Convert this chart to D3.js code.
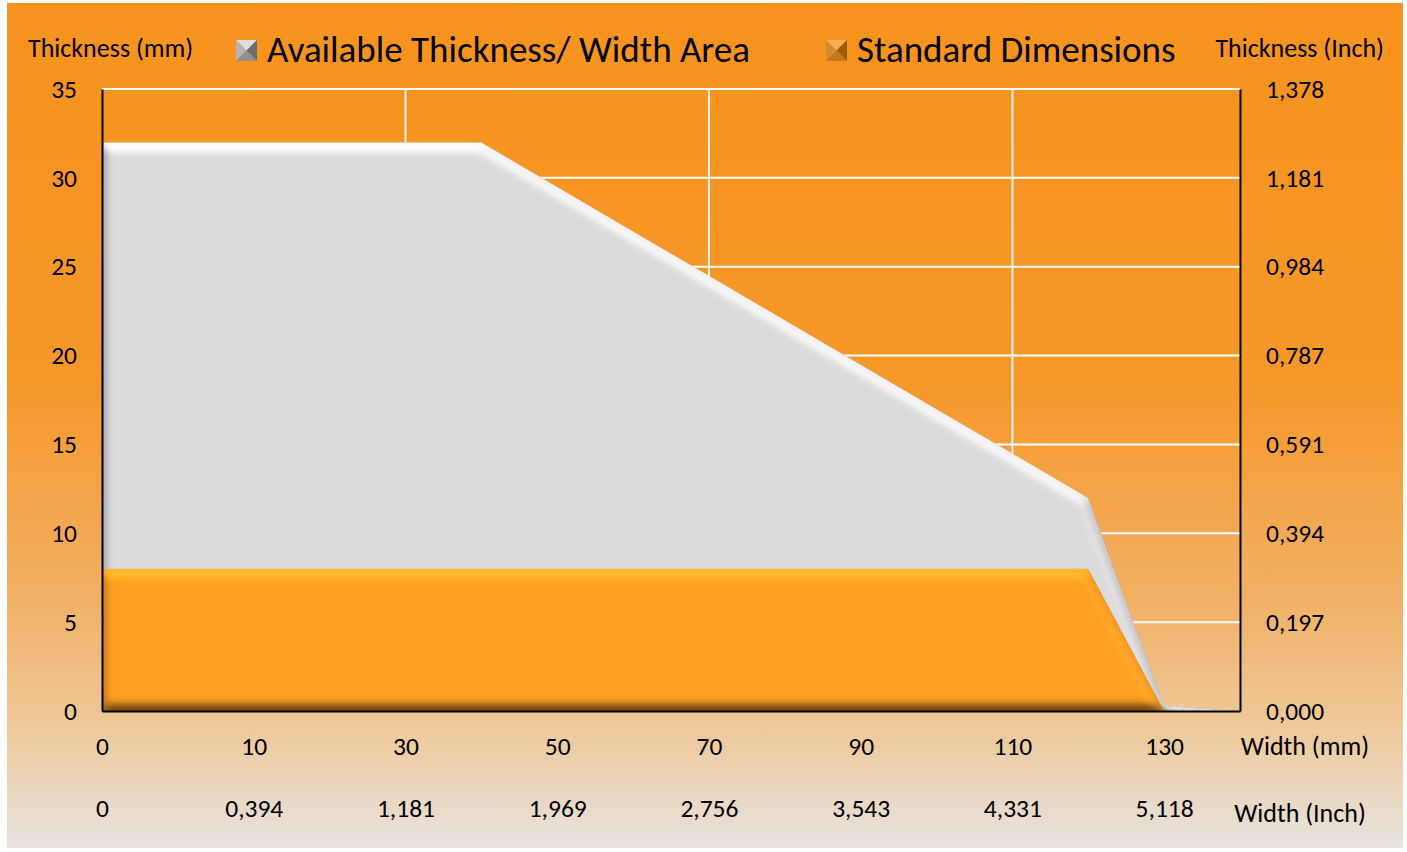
<!DOCTYPE html>
<html>
<head>
<meta charset="utf-8">
<script src="https://cdn.jsdelivr.net/npm/d3@7"></script>
<style>
  body { margin: 0; background: #fff; }
  text { font-family: Carlito, Lato, sans-serif; fill: #000; }
</style>
</head>
<body>
<svg id="chart" width="1407" height="852"></svg>
<script>
// categories along the width axis (mm); only every second one gets a label
const widthMm = ['0', '5', '10', '20', '30', '40', '50', '60', '70', '80', '90', '100', '110', '120', '130', '140'];
const mmLabels = ['0', '10', '30', '50', '70', '90', '110', '130'];
const inchLabels = ['0', '0,394', '1,181', '1,969', '2,756', '3,543', '4,331', '5,118'];
const gridCats = ['30', '70', '110'];

// thickness in mm
const available = [32, 32, 32, 32, 32, 32, 29.5, 27, 24.5, 22, 19.5, 17, 14.5, 12, 0.3, 0];
const standard = [8, 8, 8, 8, 8, 8, 8, 8, 8, 8, 8, 8, 8, 8, 0, 0];

const mmTicks = [0, 5, 10, 15, 20, 25, 30, 35];

const svg = d3.select('#chart');
const plot = { left: 102, right: 1240, top: 89, bottom: 711 };

const x = d3.scalePoint().domain(widthMm).range([plot.left, plot.right]);
const y = d3.scaleLinear().domain([0, 35]).range([plot.bottom, plot.top]);
const yInch = d3.scaleLinear().domain([0, 35 / 25.4]).range([plot.bottom, plot.top]);

const defs = svg.append('defs');

const bg = defs.append('linearGradient').attr('id', 'bg')
    .attr('x1', 0).attr('y1', 0).attr('x2', 0).attr('y2', 1);
[[0, '#f7931e'], [0.45, '#f6982a'], [0.7, '#f1b064'], [0.87, '#eecb9f'], [1, '#e6e3e1']]
    .forEach(([o, c]) => bg.append('stop').attr('offset', o).attr('stop-color', c));

// rough bevel: light from above on a blurred alpha, multiplied into the fill
const elev = 55;
const L0 = Math.sin(elev * Math.PI / 180);
const bevel = defs.append('filter').attr('id', 'bevel')
    .attr('filterUnits', 'userSpaceOnUse')
    .attr('x', 80).attr('y', 70).attr('width', 1200).attr('height', 660)
    .attr('color-interpolation-filters', 'sRGB');
bevel.append('feGaussianBlur').attr('in', 'SourceAlpha').attr('stdDeviation', 6).attr('result', 'blur');
bevel.append('feDiffuseLighting').attr('in', 'blur').attr('surfaceScale', 7)
    .attr('diffuseConstant', 1).attr('lighting-color', '#fff').attr('result', 'light')
    .append('feDistantLight').attr('azimuth', 270).attr('elevation', elev);
bevel.append('feComposite').attr('in', 'light').attr('in2', 'SourceAlpha')
    .attr('operator', 'in').attr('result', 'lit');
bevel.append('feComposite').attr('in', 'SourceGraphic').attr('in2', 'lit')
    .attr('operator', 'arithmetic')
    .attr('k1', 0.7 / L0).attr('k2', 0.3).attr('k3', 0).attr('k4', 0);

svg.append('rect')
    .attr('x', 7).attr('y', 3).attr('width', 1396).attr('height', 845)
    .attr('fill', 'url(#bg)');

// gridlines
svg.append('g')
    .selectAll('line')
    .data(mmTicks.slice(1))
    .join('line')
    .attr('x1', plot.left).attr('x2', plot.right)
    .attr('y1', d => y(d)).attr('y2', d => y(d))
    .attr('stroke', '#fff').attr('stroke-width', 2);

svg.append('g')
    .selectAll('line')
    .data(gridCats)
    .join('line')
    .attr('x1', d => x(d)).attr('x2', d => x(d))
    .attr('y1', plot.top).attr('y2', plot.bottom)
    .attr('stroke', '#f4f4f4').attr('stroke-width', 2);

const area = d3.area()
    .x((d, i) => x(widthMm[i]))
    .y0(y(0))
    .y1(d => y(d));

svg.append('path')
    .datum(available)
    .attr('d', area)
    .attr('fill', '#dcdadb')
    .attr('filter', 'url(#bevel)');

svg.append('path')
    .datum(standard)
    .attr('d', area)
    .attr('fill', '#ffa024')
    .attr('filter', 'url(#bevel)');

// axes
const fontSize = '25.5px';

const left = svg.append('g')
    .attr('transform', `translate(${plot.left},0)`)
    .call(d3.axisLeft(y).tickValues(mmTicks).tickSize(0).tickSizeOuter(0).tickPadding(25));

const right = svg.append('g')
    .attr('transform', `translate(${plot.right},0)`)
    .call(d3.axisRight(yInch)
        .tickValues(mmTicks.map(v => v / 25.4))
        .tickFormat(d => d3.format('.3f')(d).replace('.', ','))
        .tickSize(0).tickSizeOuter(0).tickPadding(26));

const bottom = svg.append('g')
    .attr('transform', `translate(0,${plot.bottom})`)
    .call(d3.axisBottom(x).tickValues(mmLabels).tickSize(0).tickSizeOuter(0).tickPadding(26));

const bottomInch = svg.append('g')
    .attr('transform', `translate(0,${plot.bottom})`)
    .call(d3.axisBottom(x).tickValues(mmLabels)
        .tickFormat((d, i) => inchLabels[i])
        .tickSize(0).tickSizeOuter(0).tickPadding(88));
bottomInch.select('.domain').remove();

[left, right, bottom, bottomInch].forEach(g => {
    g.select('.domain').attr('stroke', '#000').attr('stroke-width', 2);
    g.selectAll('text').style('font-size', fontSize);
    g.attr('font-family', null).attr('font-size', null);
});

// titles
svg.append('text').attr('x', 28).attr('y', 57)
    .style('font-size', '26px').text('Thickness (mm)');
svg.append('text').attr('x', 1384).attr('y', 57).attr('text-anchor', 'end')
    .style('font-size', '26px').text('Thickness (Inch)');
svg.append('text').attr('x', 1305).attr('y', 755).attr('text-anchor', 'middle')
    .style('font-size', '26px').text('Width (mm)');
svg.append('text').attr('x', 1300).attr('y', 822).attr('text-anchor', 'middle')
    .style('font-size', '26px').text('Width (Inch)');

// legend
const legendItems = [
    { name: 'Available Thickness/ Width Area', x: 236, faces: ['#dedede', '#b4b4b4', '#6d6d6d', '#8f8f8f'] },
    { name: 'Standard Dimensions', x: 826, faces: ['#f2b04e', '#d98a28', '#9c5c0e', '#c27820'] }
];
const legend = svg.append('g');
legendItems.forEach(item => {
    const s = 21, x0 = item.x, y0 = 40;
    const c = [x0 + s / 2, y0 + s / 2];
    const tl = [x0, y0], tr = [x0 + s, y0], br = [x0 + s, y0 + s], bl = [x0, y0 + s];
    const tris = [[tl, tr, c], [tl, bl, c], [tr, br, c], [bl, br, c]];
    const g = legend.append('g');
    g.selectAll('path')
        .data(tris)
        .join('path')
        .attr('d', d => 'M' + d.join('L') + 'Z')
        .attr('fill', (d, i) => item.faces[i]);
    legend.append('text')
        .attr('x', x0 + 31).attr('y', 62)
        .style('font-size', '37px')
        .text(item.name);
});
</script>
</body>
</html>
